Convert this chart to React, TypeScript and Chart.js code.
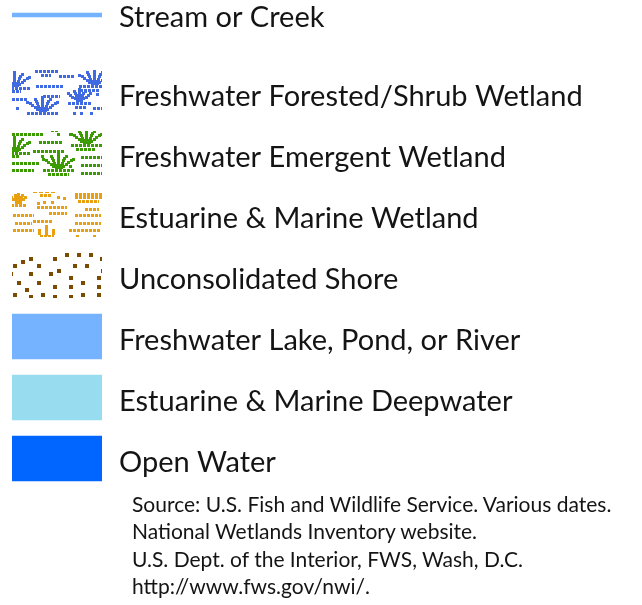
import React, { useEffect, useRef } from 'react';
import { Chart, registerables } from 'chart.js';
Chart.register(...registerables);

// ---- data ----
const streamLabels = ['Stream or Creek'];
const streamValues = [1];
const areaLabels = [
  'Freshwater Forested/Shrub Wetland',
  'Freshwater Emergent Wetland',
  'Estuarine & Marine Wetland',
  'Unconsolidated Shore',
  'Freshwater Lake, Pond, or River',
  'Estuarine & Marine Deepwater',
  'Open Water',
];
const areaValues = [1, 1, 1, 1, 1, 1, 1];
const sourceLines = [
  'Source: U.S. Fish and Wildlife Service. Various dates.',
  'National Wetlands Inventory website.',
  'U.S. Dept. of the Interior, FWS, Wash, D.C.',
  'http://www.fws.gov/nwi/.',
];

// ---- styles ----
const FONT = 'Lato, "Open Sans", sans-serif';
const STREAM_COLOR = '#75b2ff';
const BLUE = '#406ae1';
const GREEN = '#3b9b00';
const ORANGE = '#e8a010';
const BROWN = '#7a4b00';
const LAKE = '#75b2ff';
const DEEP = '#98dcf0';
const OPEN = '#0066ff';
const TILE_W = 90;
const TILE_H = 45;

type C = CanvasRenderingContext2D;
function row(c: C, x0: number, y: number, len: number, h = 3) {
  for (let x = x0; x < x0 + len; x += 4) c.fillRect(x, y, Math.min(3, x0 + len - x), h);
}
function tuft(c: C, cx: number, by: number, half = 15, h = 16) {
  c.fillRect(cx - 1, by - h, 3, h);
  const arms = [
    [-half, -h * 0.65],
    [-half * 0.5, -h * 0.8],
    [half * 0.5, -h * 0.8],
    [half, -h * 0.65],
  ];
  for (const [dx, dy] of arms) {
    const n = Math.ceil(Math.max(Math.abs(dx), Math.abs(dy)) / 2.5);
    for (let i = 1; i <= n; i++) {
      const x = cx + (dx * i) / n;
      const y = by + (dy * i) / n;
      c.fillRect(Math.round(x) - 1, Math.round(y) - 1, 3, 3);
    }
  }
  row(c, cx - half, by, half * 2 + 1);
}

function makeTile(color: string, draw: (c: C) => void) {
  const cv = document.createElement('canvas');
  cv.width = TILE_W;
  cv.height = TILE_H;
  const c = cv.getContext('2d') as C;
  c.fillStyle = color;
  draw(c);
  return cv;
}

function forested(c: C) {
  tuft(c, 2, 17);
  tuft(c, 82, 15);
  tuft(c, 30, 42);
  tuft(c, 67, 32, 11, 14);
  const rows = [[23, 0, 23], [29, 4, 10], [47, 5, 16], [24, 15, 28], [0, 20, 9], [0, 28, 16], [31, 25, 17],
    [4, 37, 3], [63, 36, 11], [81, 37, 9], [84, 23, 3], [61, 42, 3], [68, 42, 3], [78, 42, 3], [68, 19, 20]];
  rows.forEach(([x, y, l]) => row(c, x, y, l));
}
function emergent(c: C) {
  tuft(c, 2, 21);
  tuft(c, 74, 13);
  tuft(c, 46, 38);
  const rows = [[0, 2, 32], [45, 2, 3], [57, 2, 3], [64, 17, 20], [0, 24, 7], [27, 10, 23], [21, 19, 31],
    [29, 24, 3], [0, 31, 27], [0, 38, 22], [36, 42, 21], [69, 25, 21], [69, 33, 21], [69, 41, 21], [57, 34, 3]];
  rows.forEach(([x, y, l]) => row(c, x, y, l));
  c.fillRect(39, 0, 3, 1);
  c.fillRect(43, 0, 3, 1);
}
function estuarine(c: C) {
  tuft(c, 6, 12, 7, 11);
  // trident
  c.fillRect(33, 33, 3, 11);
  c.fillRect(26, 37, 3, 6);
  c.fillRect(40, 37, 3, 6);
  row(c, 28, 43, 14);
  const rows = [[28, 2, 11], [45, 4, 3], [51, 5, 3], [25, 10, 3], [31, 9, 3], [39, 9, 3], [25, 14, 30],
    [37, 20, 18], [1, 22, 21], [21, 28, 19], [3, 30, 17], [1, 37, 21], [63, 1, 28], [63, 4, 28], [66, 8, 21],
    [73, 16, 14], [63, 22, 26], [63, 30, 26], [57, 37, 32], [64, 43, 3], [81, 43, 3]];
  rows.forEach(([x, y, l]) => row(c, x, y, l));
  for (let x = 21; x < 45; x += 6) c.fillRect(x, 0, 4, 1);
}
function shore(c: C) {
  const pts = [[17, 4], [41, 4], [53, 0], [65, 0], [77, 0], [88, 4], [9, 7], [1, 11], [25, 11], [61, 11], [73, 11],
    [45, 16], [17, 19], [37, 19], [57, 23], [85, 23], [5, 28], [25, 28], [69, 28], [41, 32], [57, 32], [85, 32],
    [13, 35], [1, 40], [29, 40], [69, 40], [85, 40], [17, 42], [41, 42], [57, 42]];
  pts.forEach(([x, y]) => c.fillRect(x, y, 4, 4));
  c.fillRect(0, 19, 1, 4);
  c.fillRect(89, 16, 1, 4);
}

function yScale(offset: number) {
  return {
    position: 'right' as const,
    afterFit: (scale: any) => {
      scale.width = 540;
    },
    grid: { display: false, drawTicks: false },
    border: { display: false },
    ticks: {
      padding: 17,
      autoSkip: false,
      labelOffset: offset,
      color: '#141414',
      font: { family: FONT, size: 29 },
    },
  };
}

const patternPlugin = {
  id: 'patternAlign',
  beforeDatasetsDraw(chart: any) {
    const meta = chart.getDatasetMeta(0);
    const bgs = chart.data.datasets[0].backgroundColor as any[];
    meta.data.forEach((bar: any, i: number) => {
      const p = bgs[i];
      if (p && typeof p === 'object' && p.setTransform) {
        const left = Math.min(bar.base, bar.x);
        const top = bar.y - bar.height / 2;
        p.setTransform(new DOMMatrix().translate(Math.round(left), Math.round(top)));
      }
    });
  },
};

export default function App() {
  const refA = useRef<HTMLCanvasElement>(null);
  const refB = useRef<HTMLCanvasElement>(null);

  useEffect(() => {
    const a = refA.current!;
    const b = refB.current!;
    const ctxB = b.getContext('2d')!;
    const pat = (cv: HTMLCanvasElement) => ctxB.createPattern(cv, 'no-repeat') as CanvasPattern;
    const colors: any[] = [
      pat(makeTile(BLUE, forested)),
      pat(makeTile(GREEN, emergent)),
      pat(makeTile(ORANGE, estuarine)),
      pat(makeTile(BROWN, shore)),
      LAKE,
      DEEP,
      OPEN,
    ];
    const common = {
      responsive: false,
      animation: false as const,
      indexAxis: 'y' as const,
      plugins: { legend: { display: false }, tooltip: { enabled: false } },
    };
    const chartA = new Chart(a, {
      type: 'bar',
      data: {
        labels: streamLabels,
        datasets: [{ data: streamValues, backgroundColor: STREAM_COLOR, barThickness: 4, borderWidth: 0 }],
      },
      options: {
        ...common,
        layout: { padding: { left: 12, top: 40, bottom: 40, right: 0 } },
        scales: {
          x: { type: 'linear', min: 0, max: 1, display: false },
          y: yScale(3) as any,
        },
      },
    });
    const chartB = new Chart(b, {
      type: 'bar',
      data: {
        labels: areaLabels,
        datasets: [{ data: areaValues, backgroundColor: colors, barThickness: 45, borderWidth: 0 }],
      },
      options: {
        ...common,
        layout: { padding: { left: 12, top: 62, bottom: 116, right: 0 } },
        scales: {
          x: { type: 'linear', min: 0, max: 1, display: false },
          y: yScale(4) as any,
        },
      },
      plugins: [patternPlugin],
    });
    return () => {
      chartA.destroy();
      chartB.destroy();
    };
  }, []);

  return (
    <div style={{ position: 'absolute', left: 0, top: 0, width: 642, height: 605, background: '#fff', overflow: 'hidden' }}>
      <canvas ref={refB} width={642} height={605} style={{ position: 'absolute', left: 0, top: 0 }} />
      <canvas ref={refA} width={642} height={110} style={{ position: 'absolute', left: 0, top: -40 }} />
      <div
        style={{
          position: 'absolute',
          left: 132,
          top: 490,
          fontFamily: FONT,
          fontSize: 21,
          lineHeight: '27.4px',
          color: '#141414',
          whiteSpace: 'nowrap',
        }}
      >
        {sourceLines.map((l) => (
          <div key={l}>{l}</div>
        ))}
      </div>
    </div>
  );
}
